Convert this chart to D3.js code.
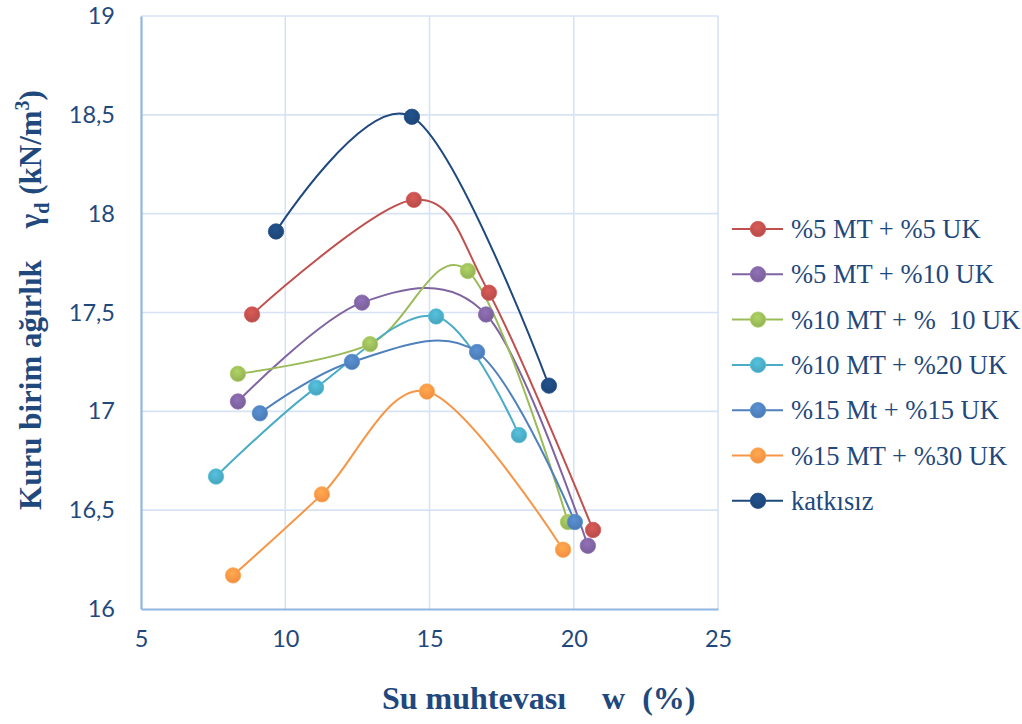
<!DOCTYPE html>
<html>
<head>
<meta charset="utf-8">
<script src="https://cdn.jsdelivr.net/npm/d3@7/dist/d3.min.js"></script>
<style>
  html, body { margin: 0; padding: 0; background: #fff; }
  svg { display: block; }
</style>
</head>
<body>
<svg id="chart" width="1022" height="724"></svg>
<script>
// ---- data ----
const seriesNames = ["%5 MT + %5 UK", "%5 MT + %10 UK", "%10 MT + %\u00a0 10 UK", "%10 MT + %20 UK", "%15 Mt + %15 UK", "%15 MT + %30 UK", "katkısız"];
const seriesColors = ["#C0504D", "#8064A2", "#9BBB59", "#4BACC6", "#4F81BD", "#F79646", "#1F497D"];

const w_5MT_5UK   = [8.85, 14.46, 17.06, 20.67];
const g_5MT_5UK   = [17.49, 18.07, 17.60, 16.40];
const w_5MT_10UK  = [8.36, 12.66, 16.96, 20.49];
const g_5MT_10UK  = [17.05, 17.55, 17.49, 16.32];
const w_10MT_10UK = [8.36, 12.94, 16.33, 19.80];
const g_10MT_10UK = [17.19, 17.34, 17.71, 16.44];
const w_10MT_20UK = [7.60, 11.07, 15.23, 18.10];
const g_10MT_20UK = [16.67, 17.12, 17.48, 16.88];
const w_15MT_15UK = [9.12, 12.31, 16.65, 20.04];
const g_15MT_15UK = [16.99, 17.25, 17.30, 16.44];
const w_15MT_30UK = [8.19, 11.27, 14.91, 19.63];
const g_15MT_30UK = [16.17, 16.58, 17.10, 16.30];
const w_katkisiz  = [9.68, 14.39, 19.14];
const g_katkisiz  = [17.91, 18.49, 17.13];

const xTicks = [5, 10, 15, 20, 25];
const yTicks = [16, 16.5, 17, 17.5, 18, 18.5, 19];
const xDomain = [5, 25];
const yDomain = [16, 19];

const seriesW = [w_5MT_5UK, w_5MT_10UK, w_10MT_10UK, w_10MT_20UK, w_15MT_15UK, w_15MT_30UK, w_katkisiz];
const seriesG = [g_5MT_5UK, g_5MT_10UK, g_10MT_10UK, g_10MT_20UK, g_15MT_15UK, g_15MT_30UK, g_katkisiz];

// ---- layout ----
const pL = 141, pR = 718, pT = 16, pB = 609;
const textColor = "#1F497D";

const svg = d3.select("#chart");
const x = d3.scaleLinear().domain(xDomain).range([pL, pR]);
const y = d3.scaleLinear().domain(yDomain).range([pB, pT]);

// gradients for markers
const defs = svg.append("defs");
seriesColors.forEach((c, i) => {
  const g = defs.append("radialGradient").attr("id", "mk" + i)
    .attr("cx", "45%").attr("cy", "35%").attr("r", "65%");
  g.append("stop").attr("offset", "0%").attr("stop-color", d3.color(c).brighter(0.35));
  g.append("stop").attr("offset", "70%").attr("stop-color", c);
  g.append("stop").attr("offset", "100%").attr("stop-color", d3.color(c).darker(0.15));
});

// grid
const grid = svg.append("g");
grid.selectAll("line.gx").data(xTicks.filter(t => t !== xDomain[0])).enter().append("line")
  .attr("x1", d => x(d)).attr("x2", d => x(d)).attr("y1", pT).attr("y2", pB)
  .attr("stroke", "#D7E3F4").attr("stroke-width", 1.6);
grid.selectAll("line.gy").data(yTicks.filter(t => t !== yDomain[0])).enter().append("line")
  .attr("x1", pL).attr("x2", pR).attr("y1", d => y(d)).attr("y2", d => y(d))
  .attr("stroke", "#D7E3F4").attr("stroke-width", 1.6);

// axes
const xAxis = svg.append("g").attr("transform", `translate(0,${pB})`)
  .call(d3.axisBottom(x).tickValues(xTicks).tickSize(0).tickPadding(21).tickFormat(d3.format("d")));
const yAxis = svg.append("g").attr("transform", `translate(${pL},0)`)
  .call(d3.axisLeft(y).tickValues(yTicks).tickSize(0).tickPadding(26).tickFormat(d => String(d).replace(".", ",")));
[xAxis, yAxis].forEach(a => {
  a.select(".domain").attr("stroke", "#92B6E2").attr("stroke-width", 2.2);
  a.selectAll("text").attr("fill", textColor).style("font-family", "Lato, 'Open Sans', sans-serif").style("font-size", "23.5px");
});

// series
const line = d3.line().x(d => x(d[0])).y(d => y(d[1])).curve(d3.curveCardinal.tension(0));
seriesW.forEach((ws, i) => {
  const pts = ws.map((w, j) => [w, seriesG[i][j]]);
  svg.append("path").datum(pts).attr("d", line)
    .attr("fill", "none").attr("stroke", seriesColors[i]).attr("stroke-width", 2);
});
seriesW.forEach((ws, i) => {
  const pts = ws.map((w, j) => [w, seriesG[i][j]]);
  svg.append("g").selectAll("circle").data(pts).enter().append("circle")
    .attr("cx", d => x(d[0])).attr("cy", d => y(d[1])).attr("r", 7.7)
    .attr("fill", `url(#mk${i})`).attr("stroke", d3.color(seriesColors[i]).brighter(0.3)).attr("stroke-width", 0.8);
});

// legend
const legY0 = 229, legStep = 45.3;
const leg = svg.append("g");
seriesNames.forEach((name, i) => {
  const ly = legY0 + i * legStep;
  leg.append("line").attr("x1", 732).attr("x2", 783).attr("y1", ly).attr("y2", ly)
    .attr("stroke", seriesColors[i]).attr("stroke-width", 2);
  leg.append("circle").attr("cx", 758).attr("cy", ly).attr("r", 7.7)
    .attr("fill", `url(#mk${i})`).attr("stroke", d3.color(seriesColors[i]).brighter(0.3)).attr("stroke-width", 0.8);
  leg.append("text").attr("x", 791).attr("y", ly + 9).text(name)
    .attr("fill", textColor).style("font-family", "'Liberation Serif', 'Times New Roman', serif")
    .style("font-size", "26.5px").style("white-space", "pre");
});

// x title
const xt = svg.append("text").attr("x", 382).attr("y", 709)
  .attr("fill", textColor).style("font-family", "'Liberation Serif', 'Times New Roman', serif")
  .style("font-size", "32px").style("font-weight", "bold");
xt.append("tspan").text("Su muhtevası");
xt.append("tspan").attr("dx", 36).text("w");
xt.append("tspan").attr("dx", 17).text("(%)");

// y title
const yt = svg.append("text").attr("transform", "translate(41,300) rotate(-90)")
  .attr("text-anchor", "middle")
  .attr("fill", textColor).style("font-family", "'Liberation Serif', 'Times New Roman', serif")
  .style("font-size", "31px").style("font-weight", "bold");
yt.append("tspan").text("Kuru birim ağırlık");
yt.append("tspan").attr("dx", 32).text("γ");
yt.append("tspan").attr("dy", 8).style("font-size", "20px").text("d");
yt.append("tspan").attr("dy", -8).text(" (kN/m");
yt.append("tspan").attr("dy", -12).style("font-size", "20px").text("3");
yt.append("tspan").attr("dy", 12).text(")");
</script>
</body>
</html>
